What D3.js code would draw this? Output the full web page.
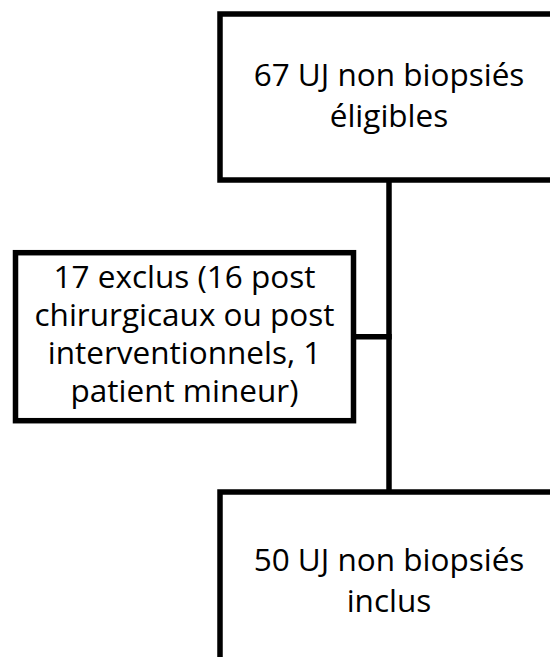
<!DOCTYPE html>
<html>
<head>
<meta charset="utf-8">
<script src="https://cdn.jsdelivr.net/npm/d3@7"></script>
<style>
  html, body { margin: 0; padding: 0; background: #fff; }
  svg { display: block; }
</style>
</head>
<body>
<div id="chart"></div>
<script>
// ---- data ----
const boxIds = ["eligibles", "exclus", "inclus"];
const boxLines = [
  ["67 UJ non biopsiés", "éligibles"],
  ["17 exclus (16 post", "chirurgicaux ou post", "interventionnels, 1", "patient mineur)"],
  ["50 UJ non biopsiés", "inclus"]
];
const links = [["eligibles", "inclus"], ["exclus", "trunk"]];

// ---- layout ----
const W = 550, H = 657;
const stroke = 5.5;
const fontFamily = "'Open Sans', Lato, sans-serif";
const fontSize = 31.5;

const layout = {
  eligibles: { x: 220, y: 14, w: 338, h: 166, lh: 41.5, dy: 9.5 },
  exclus:    { x: 15.5, y: 252.7, w: 338, h: 168, lh: 38, dy: 8.5 },
  inclus:    { x: 220, y: 492, w: 338, h: 179, lh: 41, dy: 9.5 }
};
const trunkX = 389;

const svg = d3.select("#chart").append("svg")
  .attr("width", W).attr("height", H)
  .attr("viewBox", `0 0 ${W} ${H}`);

svg.append("rect").attr("width", W).attr("height", H).attr("fill", "#fff");

const boxes = boxIds.map((id, i) => Object.assign({ id, lines: boxLines[i] }, layout[id]));
const byId = Object.fromEntries(boxes.map(b => [b.id, b]));

// connectors
const lineGen = d3.line();
const connectorPaths = links.map(([a, b]) => {
  if (b === "trunk") {
    const s = byId[a];
    const cy = s.y + s.h / 2;
    return [[s.x + s.w, cy], [trunkX + stroke / 2, cy]];
  }
  return [[trunkX, byId[a].y + byId[a].h], [trunkX, byId[b].y]];
});

svg.append("g").selectAll("path").data(connectorPaths).join("path")
  .attr("d", d => lineGen(d))
  .attr("fill", "none")
  .attr("stroke", "#000")
  .attr("stroke-width", stroke);

const g = svg.append("g").selectAll("g").data(boxes).join("g");

g.append("rect")
  .attr("x", d => d.x).attr("y", d => d.y)
  .attr("width", d => d.w).attr("height", d => d.h)
  .attr("fill", "#fff")
  .attr("stroke", "#000")
  .attr("stroke-width", stroke);

g.each(function(d) {
  const cx = d.x + d.w / 2;
  const cy = d.y + d.h / 2;
  const n = d.lines.length;
  const firstBase = cy + d.dy - (n - 1) * d.lh / 2;
  d3.select(this).append("text")
    .attr("text-anchor", "middle")
    .attr("font-family", fontFamily)
    .attr("font-size", fontSize)
    .attr("fill", "#000")
    .selectAll("tspan").data(d.lines).join("tspan")
    .attr("x", cx)
    .attr("y", (t, i) => firstBase + i * d.lh)
    .text(t => t);
});
</script>
</body>
</html>
